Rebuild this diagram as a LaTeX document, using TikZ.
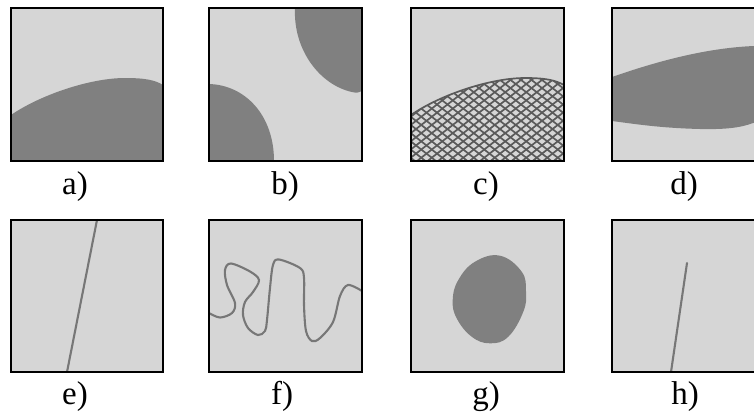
\documentclass[tikz,border=0pt]{standalone}
\usepackage{fontspec}
\setmainfont{Liberation Serif}
\usepackage{xcolor}
\definecolor{paper}{HTML}{D6D6D6}
\definecolor{ink}{HTML}{808080}
\definecolor{hatchink}{HTML}{5A5A5A}
\definecolor{wireink}{HTML}{777777}

\begin{document}
\begin{tikzpicture}[
  x=1pt, y=-1pt,
  tile/.style={fill=paper},
  frame/.style={draw=black, line width=1.9pt},
  blob/.style={fill=ink},
  wire/.style={draw=wireink, line width=2.1pt, line cap=round},
  hatchline/.style={draw=hatchink, line width=1.7pt},
  lbl/.style={anchor=base, inner sep=0pt, font=\fontsize{33}{36}\selectfont},
]
\useasboundingbox (0,0) rectangle (754,416);
\clip (0,0) rectangle (754,416);

% ---- TOP ROW ----
% a) one blob from below
\fill[tile] (11,8) rectangle (163,161);
\fill[blob] (11,115) .. controls (40,95) and (90,78) .. (125,78)
  .. controls (145,78) and (155,80) .. (163,85) -- (163,161) -- (11,161) -- cycle;
\draw[frame] (11,8) rectangle (163,161);

% b) two corner blobs
\fill[tile] (209,8) rectangle (362,161);
\fill[blob] (209,84) .. controls (245,85) and (274,115) .. (274,161) -- (209,161) -- cycle;
\fill[blob] (295,8) .. controls (293,50) and (320,85) .. (352,92)
  .. controls (357,93) .. (362,91) -- (362,8) -- cycle;
\draw[frame] (209,8) rectangle (362,161);

% c) same region, crosshatched
\fill[tile] (411,8) rectangle (564,161);
\begin{scope}
  \clip (411,115) .. controls (440,95) and (490,78) .. (525,78)
    .. controls (545,78) and (555,80) .. (564,85) -- (564,161) -- (411,161) -- cycle;
  \foreach \x in {290,300.5,...,700} {
    \draw[hatchline] (\x,170) -- ++(130,-101.4);
    \draw[hatchline] (\x,170) -- ++(-130,-101.4);
  }
\end{scope}
\draw[hatchline] (411,115) .. controls (440,95) and (490,78) .. (525,78)
  .. controls (545,78) and (555,80) .. (564,85);
\draw[frame] (411,8) rectangle (564,161);

% d) band running out of the right side
\fill[tile] (612,8) rectangle (765,161);
\fill[blob] (612,77) .. controls (655,62) and (705,48) .. (754,46) -- (770,46) -- (770,122)
  -- (754,122.7) .. controls (740,128) and (725,129.5) .. (700,129)
  .. controls (660,128) and (635,124) .. (612,121) -- cycle;
\draw[frame] (612,8) rectangle (765,161);

\node[lbl] (la) at (75,194) {a)};
\node[lbl] (lb) at (285,194) {b)};
\node[lbl] (lc) at (486,194) {c)};
\node[lbl] (ld) at (684,194) {d)};

% ---- BOTTOM ROW ----
% e) straight crossing line
\fill[tile] (11,220) rectangle (163,372);
\draw[wire] (97,220) -- (67,372);
\draw[frame] (11,220) rectangle (163,372);

% f) wiggly curve
\fill[tile] (209,220) rectangle (362,372);
\draw[wire] plot[smooth, tension=0.55] coordinates {
  (209,313) (220,317.5) (232,313) (235,303) (227,285) (225,270) (231,263.5)
  (250,271.5) (259,280) (253,292) (245,302) (243,315) (248,328) (258,335)
  (265,331) (267,320) (270,288) (273,265) (279,259.5) (300,268) (304,278)
  (304,305) (306,331) (312,341) (320,338) (333,322) (340,296) (348,285) (362,291)};
\draw[frame] (209,220) rectangle (362,372);

% g) isolated blob
\fill[tile] (411,220) rectangle (564,372);
\fill[blob] plot[smooth cycle, tension=0.7] coordinates {
  (500,255.7) (521.7,271.7) (526,291.7) (523.3,311.7) (508.3,336.7) (490,343.3)
  (471.7,336.7) (456.7,318.3) (452.7,300) (458.3,280) (475,261.7)};
\draw[frame] (411,220) rectangle (564,372);

% h) line ending inside
\fill[tile] (612,220) rectangle (765,372);
\draw[wire] (687,263) -- (671,372);
\draw[frame] (612,220) rectangle (765,372);

\node[lbl] (le) at (75,404) {e)};
\node[lbl] (lf) at (282,404) {f)};
\node[lbl] (lg) at (486,404) {g)};
\node[lbl] (lh) at (685,404) {h)};
\end{tikzpicture}
\end{document}
